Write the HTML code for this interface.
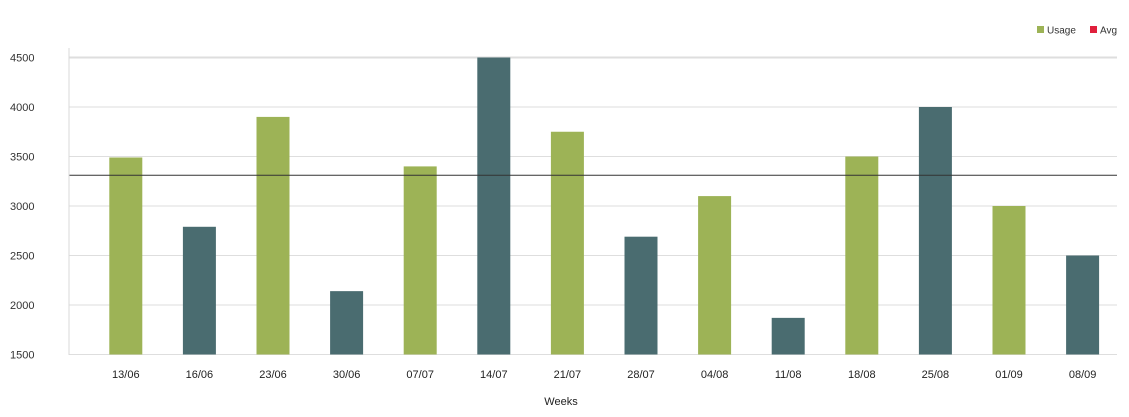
<!DOCTYPE html>
<html><head><meta charset="utf-8"><style>
body{margin:0;background:#fff;}
svg{display:block;font-family:"Liberation Sans",sans-serif;}
</style></head><body>
<svg id="chart" width="1129" height="417">
<g id="grid"></g><g id="bars"></g><g id="labels"></g>
<line x1="69" y1="48" x2="69" y2="355" stroke="#d8d8d8" stroke-width="1"/>
<g>
<rect x="1037" y="26" width="7" height="7" fill="#9db356"/>
<text x="1047" y="33.5" font-size="10" fill="#333">Usage</text>
<rect x="1090" y="26" width="7" height="7" fill="#e0203c"/>
<text x="1100" y="33.5" font-size="10" fill="#333">Avg</text>
</g>
<text x="561" y="405" font-size="11" fill="#222" text-anchor="middle">Weeks</text>
</svg>
<script>
const categories=["13/06","16/06","23/06","30/06","07/07","14/07","21/07","28/07","04/08","11/08","18/08","25/08","01/09","08/09"];
const usage=[3490,2790,3900,2140,3400,4500,3750,2690,3100,1870,3500,4000,3000,2500];
const avgValue=[3310];
const yTicks=[1500,2000,2500,3000,3500,4000,4500];
const NS="http://www.w3.org/2000/svg";
const y0=354.5,yPer=99/1000,yMin=1500;
function yScale(v){return y0-(v-yMin)*yPer;}
const bandStart=89,band=73.6;
function xScale(i){return bandStart+band*(i+0.5);}
function mk(t,a,p){const e=document.createElementNS(NS,t);for(const k in a)e.setAttribute(k,a[k]);p.appendChild(e);return e;}
const grid=document.getElementById('grid'),bars=document.getElementById('bars'),labels=document.getElementById('labels');
yTicks.forEach(v=>{
  const y=yScale(v);
  const l=mk('line',{x1:69,x2:1117,y1:y,y2:y,stroke:'#dedede','stroke-width':v===4500?2:1},grid);
  
  
  const t=mk('text',{x:10,y:y+4,'font-size':11,fill:'#333'},labels);
  t.textContent=v;
  
  
});
categories.forEach((c,i)=>{
  const cx=xScale(i),y=yScale(usage[i]);
  const r=mk('rect',{x:cx-16.5,y:y,width:33,height:y0-y,fill:i%2===0?'#9db356':'#4a6c70'},bars);
  
  
  const t=mk('text',{x:cx,y:378,'font-size':11,fill:'#222','text-anchor':'middle'},labels);
  t.textContent=c;
  
  
});
const ay=yScale(avgValue[0]);
const al=mk('line',{x1:69,x2:1117,y1:ay,y2:ay,stroke:'#333','stroke-width':1},bars);


</script>
</body></html>
